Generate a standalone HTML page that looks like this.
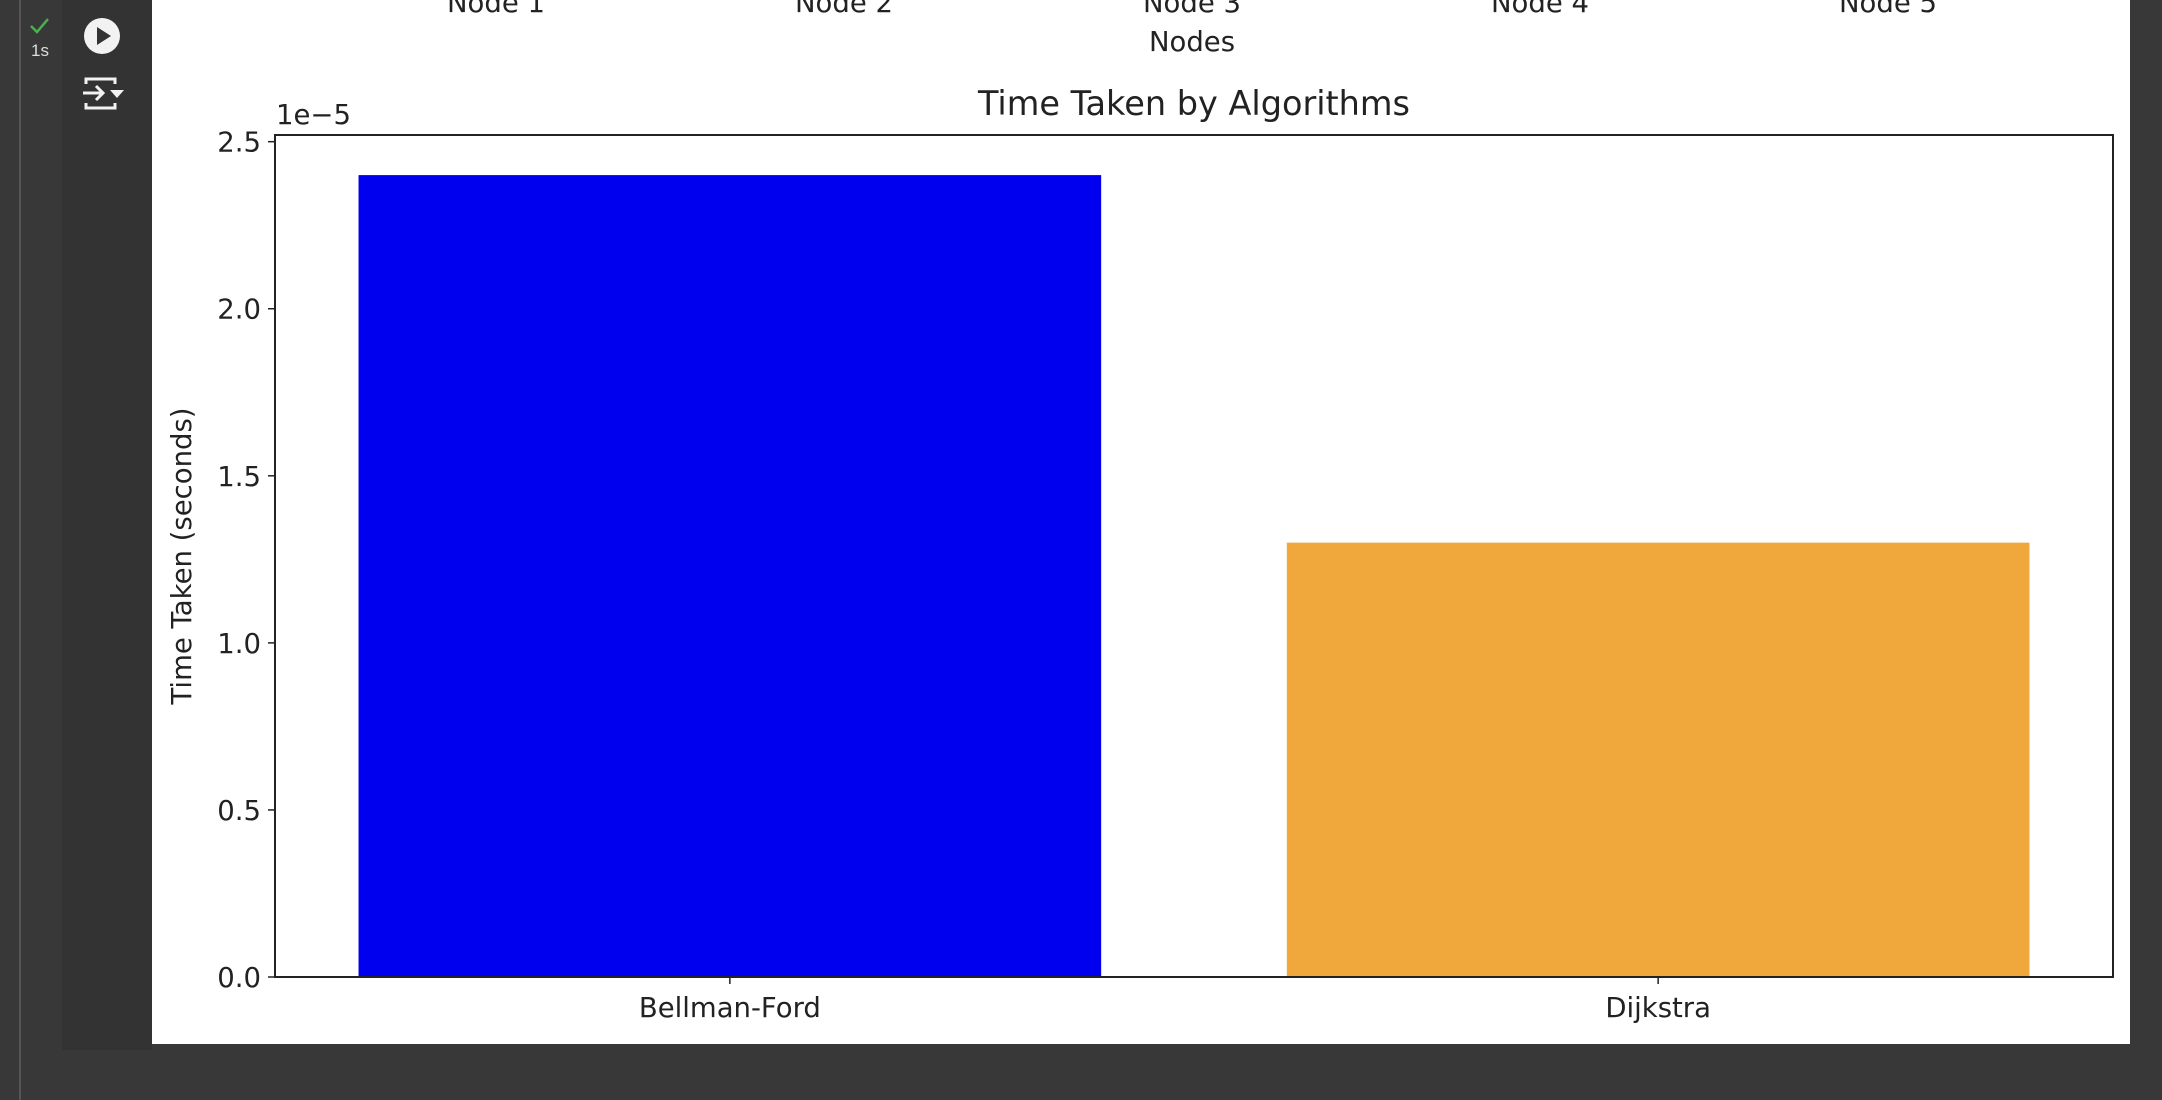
<!DOCTYPE html>
<html><head><meta charset="utf-8">
<style>
html,body{margin:0;padding:0;width:2162px;height:1100px;overflow:hidden;background:#383838;font-family:"DejaVu Sans","Liberation Sans",sans-serif;}
</style></head>
<body>
<div style="position:absolute;left:0;top:0;width:19px;height:1100px;background:#383838;border-right:2px solid #555;"></div>
<div style="position:absolute;left:62px;top:0;width:90px;height:1050px;background:#333;"></div>
<svg width="2162" height="1100" style="position:absolute;left:0;top:0" xmlns="http://www.w3.org/2000/svg">
  <g>
    <polyline points="31,26 37,32 48,19" fill="none" stroke="#4caf50" stroke-width="2.5"/>
    <text x="40" y="56" fill="#ddd" font-size="17" text-anchor="middle" font-family="Liberation Sans, sans-serif">1s</text>
  </g>
  <g>
    <circle cx="102" cy="36" r="18" fill="#f2f2f2"/>
    <polygon points="97,27 97,45 111,36" fill="#333"/>
  </g>
  <g fill="none" stroke="#f2f2f2" stroke-width="3">
    <path d="M86,84 v-5 h29 v5 M86,103 v5 h29 v-5"/>
    <path d="M83,93 h20 M96,86 l7,7 l-7,7"/>
    <polygon points="110,90 124,90 117,98" fill="#f2f2f2" stroke="none"/>
  </g>
  <rect x="152" y="0" width="1978" height="1044" fill="#fff"/>
</svg>
<svg id="chart" width="2162" height="1100" style="position:absolute;left:0;top:0" xmlns="http://www.w3.org/2000/svg" font-family="DejaVu Sans, Liberation Sans, sans-serif"></svg>
<script>
const categories = ["Bellman-Ford", "Dijkstra"];
const times = [2.4, 1.3];
const barColors = ["#0000ee", "#f0a83c"];
const yTicks = [0.0, 0.5, 1.0, 1.5, 2.0, 2.5];
const nodeLabels = ["Node 1","Node 2","Node 3","Node 4","Node 5"];

const NS = "http://www.w3.org/2000/svg";
const svg = document.getElementById("chart");
const L = 275, R = 2113, T = 135, B = 977;
const xMin = -0.49, xMax = 1.49, yMin = 0, yMax = Math.max(...times) * 1.05;
const xs = v => L + (v - xMin) / (xMax - xMin) * (R - L);
const ys = v => B - (v - yMin) / (yMax - yMin) * (B - T);
const FS = 27.5;
function mk(tag, attrs, text) {
  const e = document.createElementNS(NS, tag);
  for (const k in attrs) e.setAttribute(k, attrs[k]);
  if (text !== undefined) e.textContent = text;
  svg.appendChild(e);
  return e;
}
nodeLabels.forEach((n, i) => {
  const t = mk("text", {x: 496 + i * 348, y: 12, "font-size": FS, fill: "#222", "text-anchor": "middle"}, n);
  
  
});
const nt = mk("text", {x: 1192, y: 51, "font-size": FS, fill: "#222", "text-anchor": "middle"}, "Nodes");



categories.forEach((c, i) => {
  const x0 = xs(i - 0.4), x1 = xs(i + 0.4);
  const r = mk("rect", {x: x0, y: ys(times[i]), width: x1 - x0, height: B - ys(times[i]), fill: barColors[i]});
  
  
  const tk = mk("line", {x1: xs(i), x2: xs(i), y1: B, y2: B + 7, stroke: "#222", "stroke-width": 1.5});
  
  
  const lb = mk("text", {x: xs(i), y: B + 40, "font-size": FS, fill: "#222", "text-anchor": "middle"}, c);
  
  
});
yTicks.forEach(v => {
  const tk = mk("line", {x1: L - 7, x2: L, y1: ys(v), y2: ys(v), stroke: "#222", "stroke-width": 1.5});
  
  
  const lb = mk("text", {x: L - 14, y: ys(v) + 10, "font-size": FS, fill: "#222", "text-anchor": "end"}, v.toFixed(1));
  
  
});
const frame = mk("rect", {x: L, y: T, width: R - L, height: B - T, fill: "none", stroke: "#222", "stroke-width": 2});


const off = mk("text", {x: 276, y: 124, "font-size": FS, fill: "#222"}, "1e\u22125");


const title = mk("text", {x: (L + R) / 2, y: 115, "font-size": 33.5, fill: "#222", "text-anchor": "middle"}, "Time Taken by Algorithms");


const yt = mk("text", {x: 0, y: 0, "font-size": FS, fill: "#222", "text-anchor": "middle", transform: "translate(191,556) rotate(-90)"}, "Time Taken (seconds)");


</script>
</body></html>
